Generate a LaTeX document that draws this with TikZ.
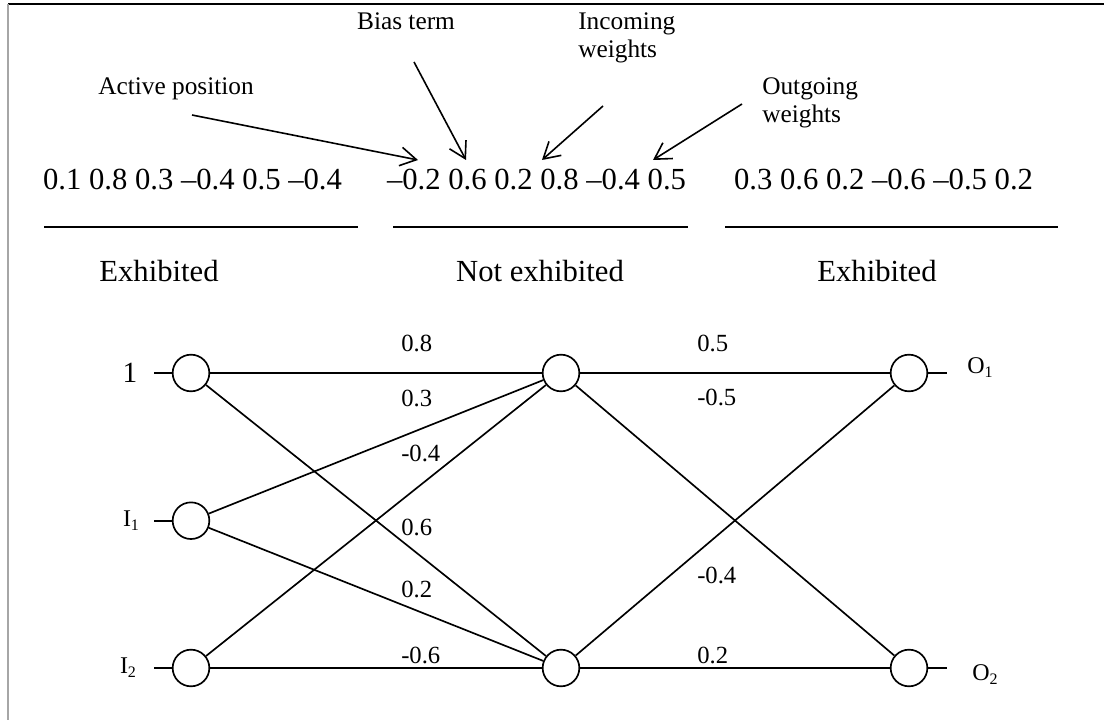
\documentclass[tikz,border=0pt]{standalone}
\usepackage{fontspec}
\setmainfont{Liberation Serif}
\usetikzlibrary{arrows.meta}
\newcommand{\lowsub}[1]{{\fontsize{12}{14}\selectfont\raisebox{-3pt}{#1}}}
\begin{document}
\begin{tikzpicture}[x=0.75pt,y=-0.75pt,
  neuron/.style={circle,draw,line width=1.25pt,minimum size=27.5pt,inner sep=0pt},
  wire/.style={line width=1.25pt},
  ptr/.style={line width=1.2pt,-{Straight Barb[length=12pt,width=14pt,line width=1.2pt]}},
  big/.style={font=\fontsize{23}{27}\selectfont,inner sep=0pt},
  note/.style={font=\fontsize{19}{21}\selectfont,inner sep=0pt},
  wlab/.style={font=\fontsize{18.5}{22}\selectfont,anchor=west,inner sep=0pt},
  lab/.style={font=\fontsize{18}{20}\selectfont,inner sep=0pt}]
\useasboundingbox (0,0) rectangle (1104,720);
% frame
\draw[line width=1.5pt] (8,4) -- (1104,4);
\draw[gray!70,line width=1.1pt] (8,4) -- (8,720);

% chromosome strings
\node[big,anchor=base] (s1) at (192.5,190) {0.1 0.8 0.3 \textendash0.4 0.5 \textendash0.4};
\node[big,anchor=base] (s2) at (536.5,190) {\textendash0.2 0.6 0.2 0.8 \textendash0.4 0.5};
\node[big,anchor=base] (s3) at (883.5,190) {0.3 0.6 0.2 \textendash0.6 \textendash0.5 0.2};
\draw[line width=1.3pt] (44,227) -- (358,227);
\draw[line width=1.3pt] (393,227) -- (688,227);
\draw[line width=1.3pt] (725,227) -- (1058,227);
\node[big,anchor=base] (e1) at (159,282) {Exhibited};
\node[big,anchor=base] (e2) at (540,282) {Not exhibited};
\node[big,anchor=base] (e3) at (877,282) {Exhibited};

% annotations
\node[note,anchor=base] (ap) at (176,95) {Active position};
\node[note,anchor=base] (bt) at (406,30) {Bias term};
\node[note,anchor=base west,align=left] (iw) at (578,58) {Incoming\\weights};
\node[note,anchor=base west,align=left] (ow) at (762,123) {Outgoing\\weights};
\coordinate (apS) at (192,115); \coordinate (apT) at (418,160);
\coordinate (btS) at (414,62);  \coordinate (btT) at (466,160);
\coordinate (iwS) at (603,106); \coordinate (iwT) at (542,160);
\coordinate (owS) at (742,104); \coordinate (owT) at (653,160);
\draw[ptr] (apS) -- (apT);
\draw[ptr] (btS) -- (btT);
\draw[ptr] (iwS) -- (iwT);
\draw[ptr] (owS) -- (owT);

% network
\node[neuron] (b)  at (191,373) {};
\node[neuron] (i1) at (191,520.7) {};
\node[neuron] (i2) at (191,668) {};
\node[neuron] (h1) at (561,373) {};
\node[neuron] (h2) at (561,668) {};
\node[neuron] (o1) at (909,373) {};
\node[neuron] (o2) at (909,668) {};

\coordinate (bin) at (154,373);
\coordinate (i1in) at (154,520.7);
\coordinate (i2in) at (154,668);
\coordinate (o1out) at (947,373);
\coordinate (o2out) at (947,668);
\draw[wire] (bin) -- (b);
\draw[wire] (i1in) -- (i1);
\draw[wire] (i2in) -- (i2);
\draw[wire] (o1) -- (o1out);
\draw[wire] (o2) -- (o2out);

\node[font=\fontsize{22}{24}\selectfont,inner sep=0pt] (lb) at (130,373) {1};
\node[lab] (li1) at (131,521) {I\lowsub{1}};
\node[lab] (li2) at (128,668) {I\lowsub{2}};
\node[lab] (lo1) at (980,368) {O\lowsub{1}};
\node[lab] (lo2) at (985,675) {O\lowsub{2}};

\draw[wire] (b) -- (h1);
\draw[wire] (b) -- (h2);
\draw[wire] (i1) -- (h1);
\draw[wire] (i1) -- (h2);
\draw[wire] (i2) -- (h1);
\draw[wire] (i2) -- (h2);
\draw[wire] (h1) -- (o1);
\draw[wire] (h1) -- (o2);
\draw[wire] (h2) -- (o1);
\draw[wire] (h2) -- (o2);

\node[wlab] (w1) at (401,343) {0.8};
\node[wlab] (w2) at (401,398) {0.3};
\node[wlab] (w3) at (401,453) {-0.4};
\node[wlab] (w4) at (401,527) {0.6};
\node[wlab] (w5) at (401,589) {0.2};
\node[wlab] (w6) at (401,655) {-0.6};
\node[wlab] (w7) at (697,343) {0.5};
\node[wlab] (w8) at (697,397) {-0.5};
\node[wlab] (w9) at (697,575) {-0.4};
\node[wlab] (w10) at (697,655) {0.2};
\end{tikzpicture}
\end{document}
